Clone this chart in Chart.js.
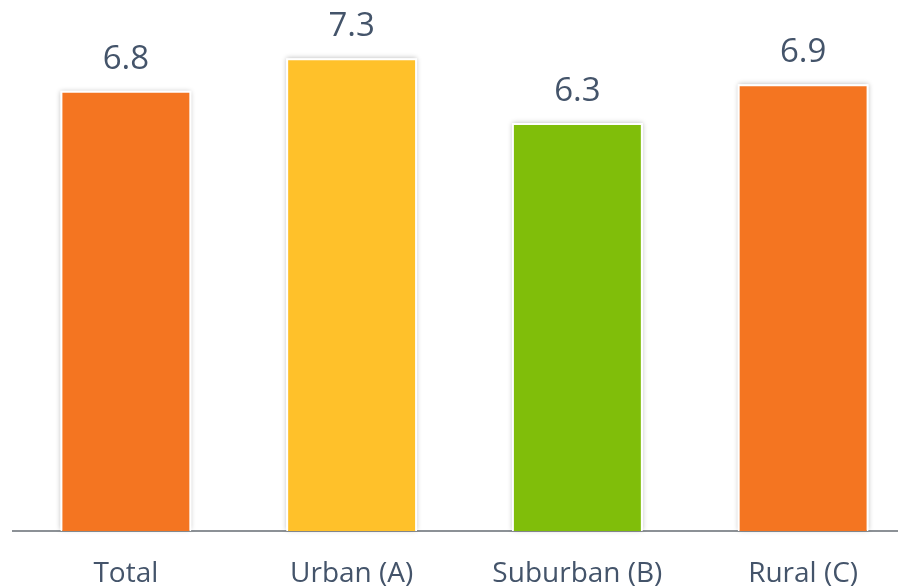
<!DOCTYPE html>
<html><head><meta charset="utf-8">
<script src="https://cdn.jsdelivr.net/npm/chart.js@4/dist/chart.umd.min.js"></script>
<style>html,body{margin:0;padding:0;overflow:hidden;background:#fff;width:898px;height:588px}canvas{display:block}</style>
</head><body>
<canvas id="c" width="916" height="588"></canvas>
<script>
const categories = ["Total", "Urban (A)", "Suburban (B)", "Rural (C)"];
const values = [6.8, 7.3, 6.3, 6.9];
const barColors = ["#F47521", "#FFC12A", "#80BE0A", "#F47521"];
const textColor = "#44546A";

const shadowPlugin = {
  id: 'barShadow',
  beforeDatasetsDraw(chart) {
    const ctx = chart.ctx;
    chart.getDatasetMeta(0).data.forEach(bar => {
      const p = bar.getProps(['x','y','base','width'], true);
      ctx.save();
      ctx.shadowColor = 'rgba(0,0,0,0.28)';
      ctx.shadowBlur = 5;
      ctx.fillStyle = '#fff';
      ctx.fillRect(p.x - p.width/2, p.y, p.width, p.base - p.y - 1);
      ctx.restore();
    });
  },
  afterDatasetsDraw(chart) {
    const ctx = chart.ctx;
    const ds = chart.data.datasets[0];
    chart.getDatasetMeta(0).data.forEach((bar, i) => {
      const p = bar.getProps(['x','y'], true);
      ctx.save();
      ctx.font = '33px "Open Sans"';
      ctx.fillStyle = textColor;
      ctx.textAlign = 'center';
      ctx.textBaseline = 'alphabetic';
      ctx.fillText(ds.data[i].toFixed(1), p.x, p.y - 22);
      ctx.restore();
    });
  }
};

new Chart(document.getElementById('c'), {
  type: 'bar',
  data: {
    labels: categories,
    datasets: [{
      data: values,
      backgroundColor: barColors,
      borderColor: '#FFFFFF',
      borderWidth: 2,
      barPercentage: 0.58,
      categoryPercentage: 1
    }]
  },
  options: {
    responsive: false,
    animation: false,
    devicePixelRatio: 1,
    layout: { padding: { left: 13, right: 0, top: 13, bottom: 0 } },
    plugins: { legend: { display: false }, tooltip: { enabled: false } },
    scales: {
      x: {
        grid: { display: false, drawTicks: false },
        border: { display: true, color: '#8C9196', width: 2 },
        ticks: { color: textColor, font: { family: 'Open Sans', size: 28, lineHeight: 1.2 }, padding: 26, maxRotation: 0 },
        afterFit: s => { s.height = 57; }
      },
      y: { display: false, min: 0, max: 8 }
    }
  },
  plugins: [shadowPlugin]
});
</script>
</body></html>
